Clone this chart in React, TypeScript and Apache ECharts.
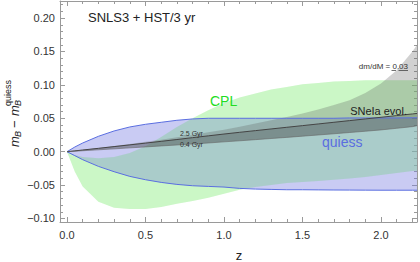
import React, { useEffect, useRef } from "react";
import * as echarts from "echarts";

// ---- data ----
const zs = [0, 0.05, 0.1, 0.2, 0.3, 0.4, 0.5, 0.6, 0.7, 0.8, 0.9, 1.0, 1.1, 1.2, 1.3, 1.4, 1.5, 1.6, 1.7, 1.8, 1.9, 2.0, 2.1, 2.2, 2.23];
const quiessUpper = [0, 0.007, 0.013, 0.023, 0.031, 0.037, 0.041, 0.044, 0.047, 0.049, 0.05, 0.05, 0.05, 0.05, 0.05, 0.05, 0.05, 0.05, 0.05, 0.0505, 0.0505, 0.0505, 0.0505, 0.0507, 0.0507];
const quiessLower = [0, -0.006, -0.012, -0.022, -0.03, -0.037, -0.042, -0.046, -0.049, -0.051, -0.052, -0.053, -0.055, -0.056, -0.0565, -0.057, -0.057, -0.0572, -0.0574, -0.0575, -0.0576, -0.0577, -0.0577, -0.0577, -0.0577];
const cplUpper = [0, -0.005, -0.008, -0.01, -0.008, -0.002, 0.008, 0.022, 0.037, 0.05, 0.062, 0.073, 0.081, 0.087, 0.093, 0.097, 0.101, 0.103, 0.105, 0.106, 0.107, 0.107, 0.107, 0.107, 0.107];
const cplLower = [0, -0.03, -0.052, -0.075, -0.084, -0.086, -0.086, -0.083, -0.078, -0.074, -0.069, -0.063, -0.057, -0.053, -0.05, -0.047, -0.0455, -0.044, -0.042, -0.04, -0.038, -0.035, -0.032, -0.029, -0.0286];
const evol04 = [0, 0.0007, 0.0014, 0.0028, 0.0042, 0.0057, 0.0071, 0.0086, 0.01, 0.0116, 0.013, 0.0147, 0.0163, 0.018, 0.0197, 0.0214, 0.0232, 0.025, 0.0268, 0.0287, 0.0306, 0.0326, 0.035, 0.0375, 0.039];
const evol25 = [0, 0.0012, 0.0025, 0.005, 0.0076, 0.0102, 0.0128, 0.0155, 0.0182, 0.021, 0.0237, 0.0264, 0.029, 0.0315, 0.034, 0.0365, 0.039, 0.0415, 0.044, 0.0465, 0.049, 0.0515, 0.054, 0.0565, 0.0573];
const evolEnvelope = [0, 0.0013, 0.0027, 0.0055, 0.0085, 0.0115, 0.0147, 0.018, 0.0215, 0.025, 0.029, 0.033, 0.0375, 0.042, 0.047, 0.052, 0.057, 0.063, 0.07, 0.077, 0.088, 0.102, 0.122, 0.15, 0.16];

const xMajorTicks = [0, 0.5, 1.0, 1.5, 2.0];
const xMinorTicks = [0.1, 0.2, 0.3, 0.4, 0.6, 0.7, 0.8, 0.9, 1.1, 1.2, 1.3, 1.4, 1.6, 1.7, 1.8, 1.9, 2.1, 2.2];
const yMajorTicks = [-0.1, -0.05, 0, 0.05, 0.1, 0.15, 0.2];
const yMinorTicks = [-0.09, -0.08, -0.07, -0.06, -0.04, -0.03, -0.02, -0.01, 0.01, 0.02, 0.03, 0.04, 0.06, 0.07, 0.08, 0.09, 0.11, 0.12, 0.13, 0.14, 0.16, 0.17, 0.18, 0.19, 0.21, 0.22];

const X_MIN = -0.0446;
const X_MAX = 2.2293;
const Y_MIN = -0.1053;
const Y_MAX = 0.2256;

const FONT = '"Liberation Sans", Arial, Helvetica, sans-serif';
const FRAME = "#9a9a9a";

function band(upper: number[], lower: number[], fill: string, z: number) {
  return {
    type: "custom",
    xAxisIndex: 0,
    yAxisIndex: 0,
    z,
    clip: true,
    silent: true,
    data: [[0, 0]],
    renderItem: (_params: any, api: any) => {
      const pts: number[][] = [];
      for (let i = 0; i < zs.length; i++) pts.push(api.coord([zs[i], upper[i]]));
      for (let i = zs.length - 1; i >= 0; i--) pts.push(api.coord([zs[i], lower[i]]));
      return { type: "polygon", shape: { points: pts }, style: { fill, stroke: "none" } };
    },
  };
}

function line(vals: number[], color: string, width: number, z: number) {
  return {
    type: "line",
    xAxisIndex: 0,
    yAxisIndex: 0,
    z,
    silent: true,
    symbol: "none",
    data: zs.map((x, i) => [x, vals[i]]),
    lineStyle: { color, width },
  };
}

function xAxis(pos: string, ticks: number[], len: number, showLine: boolean, labels: boolean) {
  return {
    type: "value",
    position: pos,
    min: X_MIN,
    max: X_MAX,
    splitLine: { show: false },
    axisLine: { show: showLine, onZero: false, lineStyle: { color: FRAME, width: 1 } },
    axisTick: { show: true, inside: true, length: len, customValues: ticks, lineStyle: { color: FRAME, width: 1 } },
    axisLabel: labels
      ? { show: true, customValues: ticks, margin: 7, color: "#333", fontSize: 11, fontFamily: FONT, formatter: (v: number) => v.toFixed(1) }
      : { show: false },
  };
}

function yAxis(pos: string, ticks: number[], len: number, showLine: boolean, labels: boolean) {
  return {
    type: "value",
    position: pos,
    min: Y_MIN,
    max: Y_MAX,
    splitLine: { show: false },
    axisLine: { show: showLine, onZero: false, lineStyle: { color: FRAME, width: 1 } },
    axisTick: { show: true, inside: true, length: len, customValues: ticks, lineStyle: { color: FRAME, width: 1 } },
    axisLabel: labels
      ? {
          show: true,
          customValues: ticks,
          margin: 5,
          color: "#333",
          fontSize: 11,
          fontFamily: FONT,
          formatter: (v: number) => (v < -1e-9 ? "\u2212" : "") + Math.abs(v).toFixed(2),
        }
      : { show: false },
  };
}

function txt(text: string, x: number, y: number, size: number, fill: string, align = "left", extra: any = {}) {
  return {
    type: "text",
    x,
    y,
    silent: true,
    z: 100,
    style: {
      text,
      fill,
      font: `${extra.italic ? "italic " : ""}${size}px ${FONT}`,
      align,
      textAlign: align,
      verticalAlign: "middle",
      textVerticalAlign: "middle",
    },
  };
}

export default function App() {
  const ref = useRef<HTMLDivElement>(null);
  useEffect(() => {
    if (!ref.current) return;
    const chart = echarts.init(ref.current, undefined, { renderer: "svg" });
    chart.setOption({
      animation: false,
      backgroundColor: "#ffffff",
      grid: { left: 60, right: 3, top: 1, bottom: 40, containLabel: false },
      xAxis: [
        xAxis("bottom", xMajorTicks, 5, true, true),
        xAxis("bottom", xMinorTicks, 3, false, false),
        xAxis("top", xMajorTicks, 5, true, false),
        xAxis("top", xMinorTicks, 3, false, false),
      ],
      yAxis: [
        yAxis("left", yMajorTicks, 5, true, true),
        yAxis("left", yMinorTicks, 3, false, false),
        yAxis("right", yMajorTicks, 5, true, false),
        yAxis("right", yMinorTicks, 3, false, false),
      ],
      series: [
        band(cplUpper, cplLower, "rgba(140,238,130,0.353)", 1),
        band(quiessUpper, quiessLower, "rgba(120,125,225,0.4)", 2),
        band(cplUpper, cplLower, "rgba(140,238,130,0.15)", 3),
        band(evolEnvelope, evol25, "rgba(90,90,90,0.28)", 4),
        band(evol25, evol04, "rgba(60,60,60,0.42)", 5),
        line(quiessUpper, "#5a6ee0", 1, 6),
        line(quiessLower, "#5a6ee0", 1, 6),
        line(evol25, "#444444", 1, 7),
        line(evol04, "#666666", 0.6, 7),
      ],
      graphic: [
        txt("SNLS3 + HST/3 yr", 88, 17, 13, "#222"),
        txt("CPL", 210, 101, 14, "#22dd22"),
        txt("quiess", 322, 142, 14, "#5a6ee0"),
        txt("SNeIa evol.", 407, 111, 11, "#222", "right"),
        txt("dm/dM = 0.03", 408, 66, 8, "#333", "right"),
        { type: "line", silent: true, z: 100, shape: { x1: 391.5, y1: 70.5, x2: 396, y2: 70.5 }, style: { stroke: "#333", lineWidth: 0.7 } },
        { type: "line", silent: true, z: 100, shape: { x1: 398.5, y1: 70.5, x2: 408, y2: 70.5 }, style: { stroke: "#333", lineWidth: 0.7 } },
        txt("2.5 Gyr", 180, 133, 7, "#333"),
        txt("0.4 Gyr", 180, 144, 7, "#333"),
        txt("z", 239, 255, 13, "#222", "center"),
        {
          type: "group",
          x: 14,
          y: 111,
          rotation: Math.PI / 2,
          silent: true,
          children: [
            txt("m", -36, 0, 13, "#222", "left", { italic: true }),
            txt("B", -26, 4, 9, "#222", "left", { italic: true }),
            txt("\u2212", -17, 0, 13, "#222", "left"),
            txt("m", -5, 0, 13, "#222", "left", { italic: true }),
            txt("B", 5, 4, 9, "#222", "left", { italic: true }),
            txt("quiess", 5, -6, 9, "#222", "left"),
          ],
        },
      ],
    });
    return () => chart.dispose();
  }, []);
  return <div ref={ref} style={{ position: "fixed", left: 0, top: 0, width: 420, height: 262 }} />;
}
